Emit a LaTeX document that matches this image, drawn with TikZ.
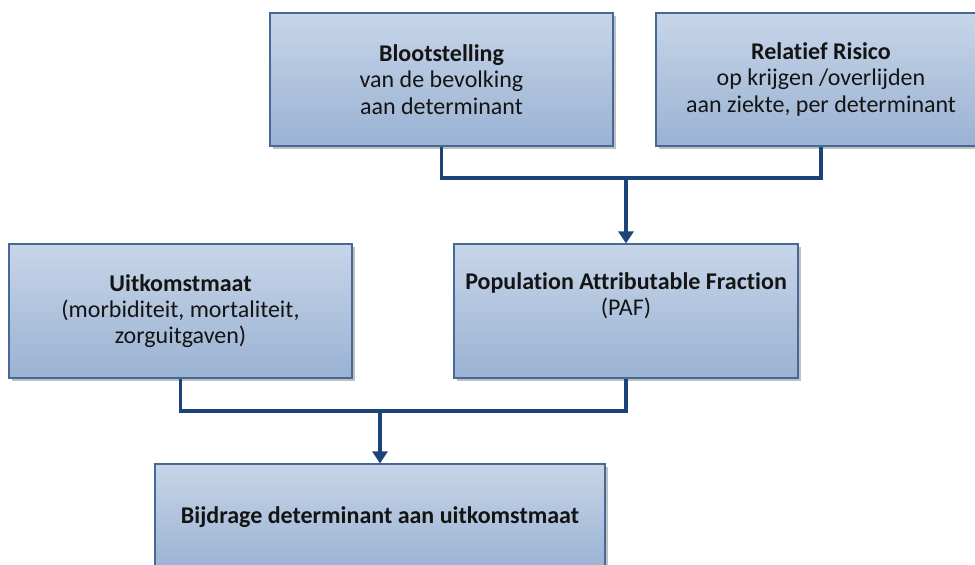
\documentclass[tikz,border=0pt]{standalone}
\usepackage{fontspec}
\setmainfont{Carlito}[Ligatures=NoCommon]
\usetikzlibrary{arrows.meta,shadows}
\definecolor{boxtop}{RGB}{199,213,232}
\definecolor{boxbot}{RGB}{154,178,211}
\definecolor{boxline}{RGB}{70,105,152}
\definecolor{conncol}{RGB}{29,68,122}
\definecolor{txt}{RGB}{20,20,20}
\tikzset{
  boxnode/.style={rectangle, draw=boxline, line width=1.2pt, top color=boxtop, bottom color=boxbot,
    align=center, font=\fontsize{24}{26.3}\selectfont, text=txt, inner sep=0pt,
    drop shadow={shadow xshift=2.5pt, shadow yshift=-2.5pt, opacity=0.45, fill=black!55}},
  conn/.style={draw=conncol, line width=3.6pt},
  arr/.style={conn, -{Triangle[length=12pt,width=15pt]}}
}
\begin{document}
\begin{tikzpicture}[x=1pt,y=-1pt]
\useasboundingbox (0,0) rectangle (975,565);
\clip (0,0) rectangle (975,565);
\node[boxnode, minimum width=343pt, minimum height=133pt] (b1) at (441.5,79.5)
  {\textbf{Blootstelling}\\van de bevolking\\aan determinant};
\node[boxnode, minimum width=330pt, minimum height=133pt] (b2) at (821,79.5)
  {\textbf{Relatief Risico}\\op krijgen /overlijden\\aan ziekte, per determinant};
\node[boxnode, minimum width=343pt, minimum height=134pt] (uit) at (180.5,311)
  {\textbf{Uitkomstmaat}\\(morbiditeit, mortaliteit,\\zorguitgaven)};
\node[boxnode, minimum width=344pt, minimum height=134pt] (paf) at (626,311)
  {\textbf{Population Attributable Fraction}\\(PAF)\\\strut};
\node[boxnode, minimum width=450pt, minimum height=106pt] (bij) at (380,517)
  {\textbf{Bijdrage determinant aan uitkomstmaat}};
\coordinate (j1) at (626,178);
\coordinate (j2) at (380,411);
\draw[conn] (b1.south) |- (j1) -| (b2.south);
\draw[arr] (j1) -- (paf.north);
\draw[conn] (uit.south) |- (j2) -| (paf.south);
\draw[arr] (j2) -- (bij.north);
\end{tikzpicture}
\end{document}
